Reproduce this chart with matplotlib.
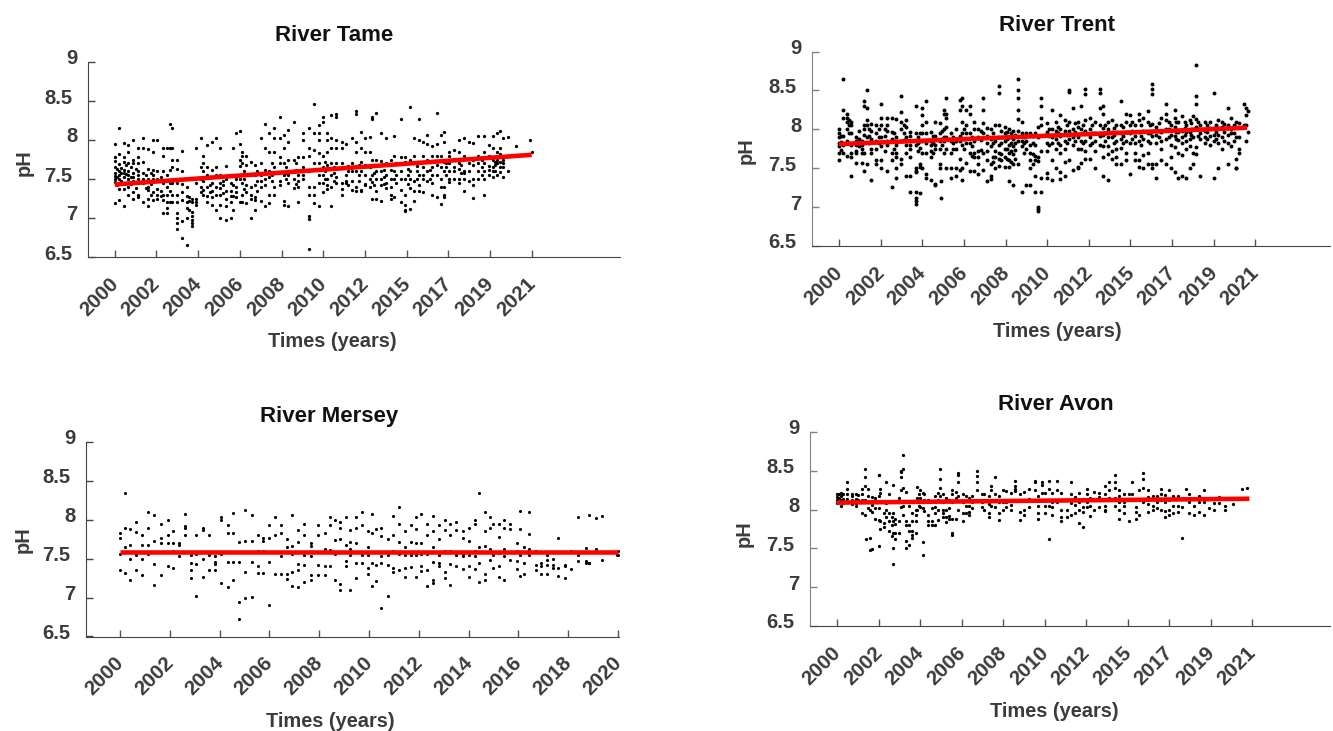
import matplotlib
matplotlib.use("Agg")
import matplotlib.pyplot as plt
from matplotlib.transforms import ScaledTranslation

plt.rcParams['font.family'] = ['Liberation Sans', 'DejaVu Sans']
plt.rcParams['font.weight'] = 'bold'

labels_21 = ['2000', '2002', '2004', '2006', '2008', '2010', '2012', '2015', '2017', '2019', '2021']
labels_20 = ['2000', '2002', '2004', '2006', '2008', '2010', '2012', '2014', '2016', '2018', '2020']
ph_ticks = [6.5, 7, 7.5, 8, 8.5, 9]
ph_labels = ['6.5', '7', '7.5', '8', '8.5', '9']

# each entry: position along the axis (tick units), then the pH readings in that column
tame = [
    (0.0, [7.95, 7.78, 7.73, 7.65, 7.58, 7.54, 7.5, 7.46, 7.19]), (0.1, [8.16, 7.82, 7.69, 7.6, 7.55, 7.5, 7.37, 7.23]),
    (0.23, [7.96, 7.78, 7.72, 7.62, 7.58, 7.53, 7.37, 7.16]), (0.33, [7.93, 7.84, 7.7, 7.6, 7.55, 7.5, 7.4, 7.3]),
    (0.45, [8.0, 7.75, 7.7, 7.58, 7.53, 7.48, 7.33, 7.25]), (0.57, [7.9, 7.78, 7.7, 7.6, 7.55, 7.5, 7.3, 7.27]),
    (0.69, [8.03, 7.9, 7.72, 7.58, 7.5, 7.45, 7.2]), (0.81, [7.88, 7.63, 7.5, 7.4, 7.36, 7.25, 7.16]),
    (0.93, [8.0, 7.84, 7.62, 7.55, 7.5, 7.33, 7.23]), (1.02, [8.0, 7.6, 7.5, 7.37, 7.3, 7.25]),
    (1.15, [7.9, 7.8, 7.6, 7.45, 7.3, 7.23, 7.07]), (1.26, [7.9, 7.55, 7.4, 7.3, 7.2, 7.13, 7.07]),
    (1.33, [8.2, 7.9, 7.62, 7.45, 7.35, 7.2]), (1.38, [8.16, 7.9, 7.75, 7.65, 7.45, 7.3, 7.2]),
    (1.49, [7.75, 7.63, 7.45, 7.3, 7.2, 7.07, 7.0, 6.93, 6.86]), (1.61, [7.86, 7.6, 7.43, 7.33, 7.23, 6.96, 6.75]),
    (1.73, [7.4, 7.28, 7.2, 7.13, 7.0, 6.66]), (1.86, [7.25, 7.2, 7.08, 7.03, 6.98, 6.93, 6.9]),
    (1.95, [7.9, 7.45, 7.25, 7.2, 7.17]), (2.08, [8.02, 7.65, 7.5, 7.4, 7.33]),
    (2.12, [7.8, 7.7, 7.6, 7.47, 7.36, 7.3]), (2.22, [7.93, 7.65, 7.55, 7.4, 7.28, 7.2]),
    (2.33, [7.97, 7.62, 7.45, 7.35, 7.27, 7.17]), (2.44, [8.03, 7.65, 7.55, 7.4, 7.3, 7.1]),
    (2.53, [7.9, 7.55, 7.45, 7.38, 7.3, 7.17, 7.0]), (2.66, [7.67, 7.5, 7.35, 7.25, 7.15, 6.97]),
    (2.78, [7.55, 7.45, 7.35, 7.28, 7.2, 7.0]), (2.84, [7.9, 7.55, 7.42, 7.28, 7.1]),
    (2.92, [8.09, 7.5, 7.4, 7.33, 7.27]), (3.01, [8.12, 7.95, 7.75, 7.67, 7.5, 7.2]),
    (3.05, [7.85, 7.8, 7.7, 7.45, 7.3, 7.2]), (3.15, [7.8, 7.68, 7.55, 7.42, 7.33, 7.19]),
    (3.28, [7.72, 7.55, 7.4, 7.3, 7.25, 7.0]), (3.37, [7.68, 7.55, 7.42, 7.27, 7.23, 7.1]),
    (3.5, [8.03, 7.7, 7.55, 7.48, 7.4, 7.22]), (3.6, [8.2, 7.9, 7.62, 7.5, 7.42, 7.16]),
    (3.7, [8.09, 7.85, 7.6, 7.52, 7.3, 7.19]), (3.83, [8.16, 8.03, 7.85, 7.65, 7.4, 7.3]),
    (3.97, [8.3, 8.03, 7.78, 7.7, 7.47, 7.42]), (4.05, [8.06, 7.9, 7.7, 7.55, 7.22, 7.17]),
    (4.15, [8.13, 7.97, 7.75, 7.55, 7.45, 7.15]), (4.3, [8.23, 7.75, 7.6, 7.5, 7.38]),
    (4.4, [7.78, 7.55, 7.48, 7.4, 7.2]), (4.52, [8.09, 8.0, 7.78, 7.65, 7.55, 7.5]),
    (4.65, [8.16, 7.9, 7.8, 7.6, 7.4, 7.29, 7.02, 6.99, 6.6]), (4.77, [8.46, 8.09, 7.87, 7.7, 7.4, 7.29, 7.19]),
    (4.9, [8.19, 8.09, 8.0, 7.83, 7.7, 7.55, 7.45, 7.16]), (5.0, [8.3, 8.23, 7.8, 7.65, 7.55, 7.45, 7.33]),
    (5.1, [8.09, 8.0, 7.85, 7.68, 7.5, 7.42, 7.37]), (5.18, [8.32, 8.02, 7.9, 7.7, 7.55, 7.4, 7.16]),
    (5.3, [8.33, 8.29, 8.0, 7.9, 7.7, 7.52, 7.45]), (5.45, [7.97, 7.9, 7.7, 7.45, 7.37, 7.29]),
    (5.55, [7.95, 7.65, 7.55, 7.47, 7.45]), (5.7, [8.02, 7.7, 7.6, 7.48, 7.36]),
    (5.78, [8.37, 8.33, 7.98, 7.85, 7.6, 7.4, 7.34]), (5.9, [8.1, 7.9, 7.72, 7.6, 7.36, 7.35]),
    (6.0, [8.03, 7.85, 7.68, 7.55, 7.43, 7.42]), (6.13, [8.04, 7.85, 7.65, 7.5, 7.4]),
    (6.17, [8.3, 8.27, 7.75, 7.55, 7.46, 7.24]), (6.26, [8.35, 7.75, 7.6, 7.5, 7.34, 7.24]),
    (6.38, [8.09, 7.73, 7.6, 7.5, 7.42, 7.22]), (6.5, [8.02, 7.7, 7.55, 7.45, 7.38]),
    (6.63, [7.75, 7.62, 7.5, 7.4, 7.3, 7.24]), (6.7, [8.05, 7.8, 7.6, 7.5, 7.27]),
    (6.86, [8.27, 7.78, 7.6, 7.5, 7.36, 7.2]), (6.95, [7.78, 7.72, 7.5, 7.3, 7.17, 7.1, 7.09]),
    (7.08, [8.42, 7.75, 7.6, 7.5, 7.38, 7.12]), (7.17, [8.02, 7.8, 7.7, 7.48, 7.35, 7.22]),
    (7.3, [8.27, 8.0, 7.72, 7.55, 7.42, 7.35]), (7.4, [7.98, 7.8, 7.65, 7.55, 7.5, 7.33]),
    (7.5, [8.07, 7.95, 7.75, 7.6, 7.47]), (7.6, [7.92, 7.8, 7.65, 7.55, 7.45, 7.3]),
    (7.72, [8.35, 7.95, 7.8, 7.68, 7.55, 7.27]), (7.82, [8.07, 7.8, 7.65, 7.5, 7.4, 7.18]),
    (7.9, [8.1, 7.97, 7.72, 7.6, 7.4, 7.3, 7.27]), (8.02, [7.85, 7.8, 7.7, 7.6, 7.5, 7.46]),
    (8.13, [7.87, 7.75, 7.65, 7.6, 7.5]), (8.25, [8.0, 7.85, 7.7, 7.63, 7.5, 7.45]),
    (8.38, [8.02, 7.8, 7.6, 7.58, 7.5, 7.35]), (8.49, [7.98, 7.77, 7.7, 7.6, 7.48]),
    (8.6, [7.96, 7.75, 7.68, 7.5, 7.42, 7.26]), (8.72, [8.05, 7.8, 7.7, 7.6, 7.5]),
    (8.85, [8.05, 7.85, 7.7, 7.6, 7.5, 7.3]), (8.98, [7.93, 7.8, 7.67, 7.62, 7.55]),
    (9.08, [8.05, 7.9, 7.75, 7.65, 7.6, 7.53]), (9.17, [8.09, 7.85, 7.75, 7.7, 7.55]),
    (9.25, [8.12, 7.9, 7.82, 7.72, 7.65, 7.59]), (9.3, [8.03, 7.75, 7.7, 7.65, 7.53]),
    (9.43, [8.04, 7.6]), (9.63, [7.92]), (9.97, [8.0]), (10.0, [7.85]),
    # second pass through the dense band
    (0.05, [7.63, 7.52, 7.42]), (0.16, [7.64, 7.58, 7.47]), (0.28, [7.68, 7.56, 7.45]), (0.39, [7.66, 7.52, 7.44]),
    (0.5, [7.63, 7.45, 7.38]), (0.75, [7.55, 7.47, 7.38]), (0.88, [7.58, 7.44, 7.3]), (1.1, [7.52, 7.35, 7.28]),
    (1.78, [7.27, 7.22, 7.1]), (2.28, [7.53, 7.42, 7.33]), (2.6, [7.48, 7.42, 7.32]), (3.1, [7.6, 7.5, 7.37]),
    (3.42, [7.6, 7.47, 7.35]), (3.78, [7.7, 7.55, 7.47]), (4.1, [7.65, 7.58, 7.5]), (4.35, [7.7, 7.62, 7.43]),
    (5.05, [7.72, 7.6, 7.5]), (5.25, [7.65, 7.58, 7.48]), (5.6, [7.67, 7.6, 7.42]), (5.85, [7.68, 7.55, 7.47]),
    (6.22, [7.68, 7.58, 7.42]), (6.45, [7.62, 7.52, 7.43]), (6.75, [7.7, 7.55, 7.45]), (7.03, [7.63, 7.55, 7.43]),
    (7.25, [7.67, 7.6, 7.5]), (7.55, [7.72, 7.62, 7.5]), (7.95, [7.7, 7.65, 7.55]), (8.3, [7.75, 7.68, 7.58]),
    (8.8, [7.75, 7.65, 7.55]), (9.12, [7.72, 7.68, 7.6]),
]

trent = [
    (0.0, [8.0, 7.95, 7.9, 7.82, 7.78, 7.69, 7.6]), (0.1, [8.65, 8.25, 8.15, 7.92, 7.8, 7.69]),
    (0.2, [8.2, 8.15, 8.1, 8.0, 7.85, 7.66]), (0.3, [8.1, 8.05, 7.95, 7.8, 7.7, 7.65, 7.4]),
    (0.42, [7.9, 7.85, 7.8, 7.72, 7.7, 7.57]), (0.55, [7.85, 7.8, 7.75, 7.7, 7.57]),
    (0.6, [8.37, 8.3, 8.05, 8.0, 7.93, 7.7, 7.47]), (0.68, [8.5, 8.28, 8.12, 8.05, 7.9, 7.55]),
    (0.78, [8.07, 7.98, 7.88, 7.75, 7.7, 7.35]), (0.9, [8.05, 7.95, 7.85, 7.75, 7.6, 7.55]),
    (1.02, [8.33, 8.15, 8.05, 7.9, 7.78, 7.6, 7.5]), (1.15, [8.15, 8.05, 7.98, 7.85, 7.8, 7.46]),
    (1.28, [8.15, 7.97, 7.88, 7.7, 7.6, 7.26]), (1.38, [8.13, 7.9, 7.8, 7.7, 7.65, 7.5, 7.37]),
    (1.5, [8.43, 8.22, 8.1, 8.0, 7.85, 7.62, 7.55]), (1.6, [8.12, 8.03, 7.9, 7.8, 7.7, 7.4]),
    (1.7, [7.97, 7.92, 7.8, 7.75, 7.65, 7.2, 7.4]), (1.85, [8.3, 7.95, 7.8, 7.5, 7.47, 7.45, 7.2]),
    (1.85, [7.12]), (1.85, [7.04, 7.08]), (1.95, [7.95, 7.85, 7.76, 7.55, 7.52, 7.18]),
    (2.0, [8.28, 8.18, 8.05, 7.95, 7.85, 7.7, 7.5]), (2.1, [8.36, 8.1, 7.95, 7.82, 7.7, 7.42, 7.38]),
    (2.2, [7.97, 7.85, 7.8, 7.72, 7.65, 7.35]), (2.3, [8.1, 7.92, 7.8, 7.75, 7.3, 7.28]),
    (2.42, [8.08, 7.95, 7.85, 7.75, 7.55, 7.5]), (2.45, [7.12, 7.33]), (2.52, [8.25, 8.2, 8.0, 7.9, 7.85, 7.7]),
    (2.58, [8.4, 8.2, 8.15, 8.03, 7.9, 7.75, 7.5]), (2.7, [7.95, 7.85, 7.7, 7.5, 7.37]),
    (2.8, [8.0, 7.85, 7.75, 7.5, 7.4]), (2.9, [8.38, 8.25, 7.92, 7.85, 7.62, 7.48]),
    (2.96, [8.4, 8.3, 8.1, 7.95, 7.8, 7.35, 7.5]), (3.04, [8.25, 8.05, 7.95, 7.82, 7.57]),
    (3.15, [8.3, 8.2, 7.95, 7.82, 7.7, 7.46]), (3.25, [8.1, 8.0, 7.85, 7.7, 7.65, 7.47]),
    (3.35, [8.0, 7.9, 7.72, 7.65, 7.55, 7.43]), (3.45, [8.4, 8.25, 8.08, 7.95, 7.7, 7.48]),
    (3.55, [8.02, 7.92, 7.83, 7.72, 7.6, 7.33]), (3.65, [8.0, 7.88, 7.78, 7.55, 7.4, 7.36]),
    (3.75, [8.06, 7.85, 7.72, 7.65, 7.5]), (3.85, [8.06, 7.8, 7.7, 7.62, 7.53]),
    (3.85, [8.56, 8.47]), (3.98, [8.03, 7.95, 7.85, 7.75, 7.65, 7.52]), (4.08, [8.0, 7.9, 7.8, 7.7, 7.6, 7.33, 7.52]),
    (4.18, [7.98, 7.88, 7.78, 7.68, 7.55, 7.28]), (4.3, [8.65, 8.5, 8.4, 8.25, 8.13, 7.98, 7.85, 7.55]),
    (4.4, [8.09, 7.95, 7.85, 7.78, 7.2]), (4.5, [7.95, 7.85, 7.75, 7.28]), (4.6, [7.95, 7.8, 7.7, 7.6, 7.5, 7.28]),
    (4.72, [7.95, 7.8, 7.66, 7.6, 7.4, 7.2]), (4.78, [8.03, 7.9, 7.64, 7.59, 7.0, 6.97, 6.95]),
    (4.86, [8.4, 8.3, 8.14, 8.05, 7.72, 7.38, 7.2]), (5.0, [8.08, 7.97, 7.82, 7.72, 7.44, 7.38]),
    (5.12, [8.25, 8.0, 7.9, 7.82, 7.6, 7.35]), (5.22, [8.1, 7.98, 7.88, 7.75, 7.5]),
    (5.32, [8.18, 8.0, 7.92, 7.8, 7.7, 7.36, 7.45]), (5.43, [8.12, 7.98, 7.85, 7.75, 7.58, 7.4]),
    (5.52, [8.48, 8.5, 8.1, 7.98, 7.88, 7.6]), (5.62, [8.28, 8.0, 7.9, 7.8, 7.48]),
    (5.73, [8.1, 8.03, 7.9, 7.75, 7.5, 7.52]), (5.82, [8.3, 8.0, 7.85, 7.75, 7.57]),
    (5.92, [8.52, 8.45, 8.12, 7.98, 7.85, 7.72, 7.62]), (6.02, [8.15, 8.0, 7.9, 7.8, 7.62]),
    (6.14, [8.1, 7.95, 7.85, 7.72, 7.5]), (6.26, [8.52, 8.47, 8.28, 8.05, 7.92, 7.8]),
    (6.34, [8.3, 8.2, 8.02, 7.93, 7.78, 7.65, 7.4]), (6.46, [8.1, 8.0, 7.9, 7.78, 7.68, 7.35]),
    (6.55, [8.12, 7.97, 7.9, 7.72, 7.62]), (6.65, [8.05, 7.96, 7.85, 7.75, 7.65, 7.55]),
    (6.77, [8.37, 8.05, 7.95, 7.88, 7.76, 7.55]), (6.9, [8.2, 8.1, 7.97, 7.85, 7.7, 7.6]),
    (7.0, [8.18, 8.05, 7.95, 7.82, 7.42]), (7.1, [8.05, 7.92, 7.83, 7.7, 7.6]),
    (7.2, [8.2, 8.12, 7.97, 7.85, 7.6, 7.52]), (7.3, [8.15, 7.98, 7.87, 7.67, 7.5]),
    (7.42, [8.23, 8.1, 7.95, 7.85, 7.7, 7.55]), (7.52, [8.58, 8.52, 8.45, 8.07, 7.92, 7.55, 7.5]),
    (7.62, [8.03, 7.93, 7.82, 7.55, 7.38]), (7.74, [8.14, 7.97, 7.85, 7.75, 7.6]),
    (7.85, [8.33, 8.2, 8.12, 8.0, 7.88, 7.55]), (7.98, [8.05, 7.93, 7.8, 7.65, 7.5]),
    (8.06, [8.25, 8.15, 8.03, 7.92, 7.77, 7.45]), (8.15, [8.1, 7.97, 7.86, 7.7, 7.38]),
    (8.25, [8.17, 7.98, 7.9, 7.82, 7.67, 7.4]), (8.34, [8.05, 7.97, 7.85, 7.75, 7.38]),
    (8.42, [8.12, 7.97, 7.88, 7.78, 7.5]), (8.5, [8.17, 8.0, 7.9, 7.7, 7.55]),
    (8.57, [8.83, 8.43, 8.33, 8.13, 8.03, 7.77, 7.68]), (8.68, [8.05, 7.95, 7.88, 7.4]),
    (8.8, [8.1, 7.98, 7.9, 7.83]), (8.9, [8.1, 8.02, 7.92, 7.8]), (9.0, [8.47, 8.02, 7.93, 7.85, 7.38]),
    (9.1, [8.12, 8.02, 7.93, 7.82, 7.5]), (9.2, [8.1, 8.03, 7.9, 7.75]),
    (9.35, [8.28, 8.05, 7.93, 7.82, 7.55]), (9.42, [8.15, 8.0, 7.95, 7.78]),
    (9.54, [8.1, 8.03, 7.9, 7.62, 7.5, 7.5]), (9.62, [8.08, 7.9, 7.75, 7.7]),
    (9.72, [8.33, 8.05]), (9.78, [8.28, 8.18, 8.05, 7.85]), (9.82, [8.23, 7.97]),
    # second pass through the dense band
    (0.05, [7.92, 7.84, 7.74]), (0.25, [8.12, 8.06, 7.95]), (0.48, [7.98, 7.88, 7.78]), (0.72, [8.0, 7.92, 7.82]),
    (0.95, [8.0, 7.9, 7.82]), (1.1, [8.0, 7.92, 7.72]), (1.33, [7.95, 7.85, 7.75]), (1.55, [8.06, 7.95, 7.86]),
    (1.9, [7.9, 7.82, 7.72]), (2.25, [7.92, 7.82, 7.7]), (2.48, [7.98, 7.88, 7.8]), (2.75, [7.9, 7.82, 7.75]),
    (3.0, [8.0, 7.88, 7.75]), (3.2, [7.9, 7.78, 7.66]), (3.4, [7.98, 7.86, 7.74]), (3.7, [7.95, 7.83, 7.65, 7.58]),
    (3.9, [7.98, 7.83, 7.68, 7.6]), (4.03, [7.97, 7.87, 7.75, 7.62]), (4.13, [7.95, 7.83, 7.72, 7.58]),
    (4.22, [7.93, 7.82, 7.74, 7.62]), (4.45, [7.9, 7.82, 7.7]), (4.65, [7.92, 7.83, 7.68, 7.55]),
    (5.05, [8.0, 7.92, 7.8]), (5.27, [8.03, 7.95, 7.82]), (5.48, [8.05, 7.93, 7.82]), (5.68, [8.08, 7.97, 7.85]),
    (5.87, [8.05, 7.95, 7.83]), (6.08, [8.06, 7.95, 7.82]), (6.4, [8.05, 7.95, 7.85]), (6.6, [8.02, 7.93, 7.82]),
    (6.83, [8.03, 7.92, 7.82]), (7.05, [8.1, 7.98, 7.88]), (7.25, [8.05, 7.92, 7.8]), (7.47, [8.05, 7.95, 7.82]),
    (7.68, [8.08, 7.98, 7.9]), (7.92, [8.1, 8.0, 7.9]), (8.1, [8.1, 7.97, 7.88]), (8.3, [8.1, 8.02, 7.93]),
    (8.46, [8.08, 8.0, 7.93]), (8.63, [8.1, 8.0, 7.92]), (8.85, [8.05, 7.97, 7.87]), (9.05, [8.05, 7.97, 7.88]),
    (9.25, [8.07, 7.97, 7.85]), (9.48, [8.05, 7.95, 7.85]),
]

mersey = [
    (0.0, [7.83, 7.76, 7.56, 7.36]), (0.1, [8.34, 7.89, 7.65, 7.31]), (0.2, [7.88, 7.67, 7.49, 7.22]),
    (0.33, [7.97, 7.84, 7.55, 7.35]), (0.45, [7.81, 7.67, 7.5, 7.29]), (0.56, [8.1, 7.9, 7.67, 7.56]),
    (0.68, [8.06, 7.73, 7.43, 7.16]), (0.82, [7.95, 7.77, 7.7, 7.29]), (0.97, [8.0, 7.8, 7.7, 7.41]),
    (1.07, [7.86, 7.7, 7.6, 7.38]), (1.19, [7.7, 7.67, 7.53]), (1.3, [8.07, 7.92, 7.9, 7.8]),
    (1.43, [7.55, 7.45, 7.35, 7.25]), (1.53, [7.8, 7.56, 7.43, 7.02]), (1.67, [7.9, 7.87, 7.5, 7.26]),
    (1.79, [7.8, 7.55, 7.36]), (1.91, [7.53, 7.46, 7.43, 7.36]), (2.02, [8.03, 8.0, 7.56, 7.19]),
    (2.16, [7.93, 7.83, 7.46, 7.13]), (2.27, [8.09, 7.83, 7.46, 7.23]), (2.39, [7.72, 7.46, 6.94, 6.72]),
    (2.52, [8.13, 7.73, 7.33, 7.0]), (2.65, [8.06, 7.73, 7.46, 7.01]), (2.77, [7.8, 7.6, 7.4, 7.32]),
    (2.87, [7.76, 7.73, 7.6, 7.32]), (3.0, [7.93, 7.76, 7.46, 6.91]), (3.12, [8.03, 7.8, 7.3]),
    (3.24, [7.93, 7.83, 7.53, 7.3]), (3.36, [7.75, 7.65, 7.3, 7.24]), (3.45, [8.06, 7.66, 7.56, 7.33, 7.15]),
    (3.58, [7.87, 7.72, 7.43, 7.36, 7.14]), (3.7, [7.95, 7.8, 7.55, 7.42, 7.2]), (3.84, [7.7, 7.66, 7.53, 7.29, 7.23]),
    (3.97, [7.93, 7.8, 7.42, 7.29]), (4.12, [7.83, 7.62, 7.4, 7.29]), (4.22, [8.03, 7.93, 7.61, 7.4]),
    (4.32, [8.0, 7.74, 7.56, 7.23]), (4.41, [7.97, 7.89, 7.75, 7.17, 7.1]), (4.53, [8.03, 7.68, 7.47, 7.4]),
    (4.62, [7.87, 7.72, 7.62, 7.55, 7.1]), (4.74, [8.03, 7.9, 7.7, 7.45, 7.25]), (4.85, [8.1, 7.93, 7.55, 7.45]),
    (4.97, [7.85, 7.65, 7.55, 7.38, 7.3]), (5.07, [8.07, 7.83, 7.45, 7.15]), (5.14, [7.88, 7.42, 7.21]),
    (5.25, [7.9, 7.79, 7.53, 7.45, 6.86]), (5.38, [7.75, 7.55, 7.42, 7.02]), (5.48, [8.05, 7.8, 7.6, 7.38, 7.33]),
    (5.6, [8.16, 7.95, 7.72, 7.56, 7.35]), (5.73, [7.86, 7.65, 7.55, 7.38, 7.27]), (5.84, [7.93, 7.72, 7.55, 7.39]),
    (5.95, [8.03, 7.88, 7.7, 7.55, 7.27]), (6.05, [8.08, 7.7, 7.56, 7.41, 7.34]), (6.16, [7.95, 7.8, 7.56, 7.35, 7.15]),
    (6.28, [8.05, 7.86, 7.65, 7.46, 7.22, 7.19]), (6.41, [7.93, 7.75, 7.55, 7.45, 7.4]), (6.52, [8.0, 7.87, 7.6, 7.33, 7.25]),
    (6.63, [7.95, 7.8, 7.6, 7.43, 7.16]), (6.75, [7.97, 7.87, 7.55, 7.4]), (6.88, [7.85, 7.77, 7.56, 7.53, 7.37]),
    (7.0, [7.9, 7.73, 7.55, 7.4, 7.27]), (7.12, [8.0, 7.95, 7.6, 7.53, 7.37]), (7.21, [8.34, 7.65, 7.45, 7.2]),
    (7.33, [8.1, 7.85, 7.66, 7.3, 7.22]), (7.42, [8.03, 7.9, 7.63, 7.48]), (7.5, [7.95, 7.55, 7.38]),
    (7.61, [7.95, 7.78, 7.57, 7.4, 7.26]), (7.72, [8.0, 7.9, 7.63, 7.53, 7.22]), (7.83, [7.95, 7.88, 7.58, 7.48]),
    (7.98, [7.7, 7.6, 7.47, 7.37]), (8.04, [8.11, 7.88, 7.55, 7.28]), (8.12, [7.65, 7.45, 7.3]),
    (8.22, [8.1, 7.82, 7.63, 7.55]), (8.35, [7.6, 7.42, 7.36]), (8.46, [7.45, 7.3, 7.41]),
    (8.58, [7.42, 7.48, 7.55, 7.3]), (8.7, [7.42, 7.38, 7.5]), (8.8, [7.76, 7.38, 7.28]),
    (8.93, [7.4, 7.42, 7.25]), (9.05, [7.6, 7.37]), (9.2, [8.04, 7.55, 7.47]),
    (9.35, [7.64, 7.45, 7.47]), (9.42, [8.06, 7.58, 7.44, 7.45]), (9.55, [7.63, 8.02]),
    (9.67, [8.05, 7.58, 7.48]), (9.97, [7.55]), (10.0, [7.6, 7.55]),
]

avon = [
    (0.0, [8.2, 8.16, 8.12, 8.08]), (0.05, [8.2, 8.15, 8.1]), (0.1, [8.21, 8.17, 8.13, 8.05]),
    (0.15, [8.2, 8.14, 8.08]), (0.23, [8.35, 8.26, 8.2, 8.14, 8.1]), (0.35, [8.2, 8.17, 8.12, 8.07]),
    (0.45, [8.2, 8.14, 8.08, 8.04]), (0.5, [8.19, 8.12]), (0.6, [8.26, 8.2, 8.12]),
    (0.6, [7.95]), (0.68, [8.42, 8.52, 8.3, 8.12, 7.93]), (0.7, [7.62]), (0.74, [8.26, 8.18, 8.02]),
    (0.8, [7.63, 7.48, 8.0]), (0.85, [8.16, 8.06, 7.97, 7.49]), (0.92, [8.15, 8.02, 7.88]),
    (1.0, [8.45, 8.44, 8.17, 8.02, 7.87, 7.53]), (1.04, [8.27, 8.22, 7.85, 7.75]), (1.12, [8.1, 7.95, 7.83, 7.78]),
    (1.18, [8.35, 8.08, 8.0, 7.9]), (1.25, [8.2, 7.96, 7.85, 7.72]), (1.32, [7.9, 7.8, 7.66]),
    (1.35, [8.32, 7.95, 7.85, 7.7, 7.3, 7.5]), (1.4, [7.88, 7.82, 7.62, 7.7]), (1.5, [8.15, 7.85, 7.7]),
    (1.55, [8.5, 8.48, 8.42, 8.25, 8.03]), (1.58, [8.7, 8.52, 8.28, 8.05, 7.93]), (1.65, [8.23, 7.85, 7.8, 7.6, 7.5]),
    (1.74, [8.05, 7.8, 7.72, 7.55]), (1.8, [7.95, 7.85, 7.73, 7.67, 7.63]), (1.9, [7.93, 7.85, 7.7, 8.0]),
    (1.92, [8.29, 8.15, 8.0]), (1.98, [8.2, 8.1, 8.05]), (2.0, [8.25, 8.15, 8.03]),
    (2.06, [8.22, 8.1, 8.02, 7.58, 7.42]), (2.1, [8.2, 8.12, 7.98]), (2.2, [8.12, 7.93, 7.85, 7.8]),
    (2.28, [8.02, 7.85, 7.8]), (2.35, [8.18, 8.03, 7.95, 7.8]), (2.42, [8.22, 8.12, 8.0, 7.87]),
    (2.48, [8.52, 8.4, 8.28, 8.18]), (2.55, [8.2, 8.1, 8.0, 7.95, 7.9]), (2.62, [8.15, 8.0, 7.9, 7.84]),
    (2.7, [8.13, 8.02, 7.92, 7.88]), (2.78, [8.25, 8.2, 8.1, 7.88, 7.67, 7.7]), (2.86, [8.23, 8.15, 7.88]),
    (2.92, [8.47, 8.44, 8.35, 8.17, 8.0]), (3.03, [8.2, 8.1, 7.95, 7.85]), (3.1, [8.18, 8.05, 7.96]),
    (3.18, [8.15, 8.05, 7.97, 7.93]), (3.25, [8.18, 8.1, 8.02]), (3.37, [8.5, 8.43, 8.36, 8.25]),
    (3.5, [8.2, 8.1, 8.03]), (3.55, [8.2, 8.12, 8.0]), (3.65, [8.17, 8.07, 7.95, 7.9]),
    (3.72, [8.3, 8.25, 8.05]), (3.8, [8.42, 8.2, 8.03]), (3.9, [8.18, 8.1, 7.95, 7.87]),
    (4.0, [8.25, 8.1, 8.0]), (4.08, [8.24, 8.1, 8.03]), (4.18, [8.22, 8.06, 7.99]),
    (4.28, [8.37, 8.3, 8.27, 8.24]), (4.4, [8.2, 8.12, 7.97, 7.87]), (4.5, [8.23, 8.12, 8.0, 7.93]),
    (4.62, [8.27, 8.14, 8.03]), (4.77, [8.37, 8.35, 8.25, 8.12]), (4.85, [8.17, 8.05, 7.95, 7.88]),
    (4.93, [8.35, 8.32, 8.22, 8.12]), (5.0, [8.22, 8.05, 7.95]), (5.1, [8.37, 8.27, 8.05, 7.62]),
    (5.18, [8.22, 8.1, 8.03, 7.93]), (5.3, [8.37, 8.25, 8.1]), (5.4, [8.22, 8.0, 7.9, 7.85]),
    (5.55, [8.13, 8.0, 7.9]), (5.64, [8.35, 8.2, 8.08, 7.93]), (5.73, [8.16, 8.06, 7.95]),
    (5.82, [8.22, 8.1, 8.0, 7.83]), (5.92, [8.14, 8.03, 7.97, 7.78]), (6.02, [8.27, 8.2, 8.1, 8.03]),
    (6.1, [8.15, 8.05, 7.92]), (6.2, [8.23, 8.14, 8.0]), (6.3, [8.22, 8.16, 8.03]),
    (6.45, [8.3, 8.2, 8.05, 7.99, 7.98]), (6.55, [8.36, 8.25, 8.15]), (6.7, [8.45, 8.35, 8.28, 8.15, 8.05]),
    (6.8, [8.25, 8.18, 8.1, 8.0, 7.88]), (6.9, [8.2, 8.1, 8.05, 7.95]), (7.03, [8.2, 8.14, 7.85]),
    (7.1, [8.36, 8.2, 8.13]), (7.2, [8.13, 8.03, 7.97, 7.88]), (7.28, [8.25, 8.12, 7.93]),
    (7.36, [8.47, 8.4, 8.28, 8.1]), (7.5, [8.25, 8.16, 8.07, 7.97]), (7.6, [8.18, 8.05, 8.0]),
    (7.7, [8.17, 8.1, 8.02]), (7.8, [8.27, 8.2, 8.13, 8.0]), (7.9, [8.19, 8.1, 7.98, 7.9]),
    (8.0, [8.25, 8.13, 8.0, 7.93]), (8.1, [8.17, 8.05, 7.96]), (8.2, [8.18, 8.05, 7.97]),
    (8.3, [8.14, 8.03, 7.63]), (8.4, [8.26, 8.14]), (8.48, [8.2, 8.1, 7.95]), (8.6, [8.15, 8.05, 7.93]),
    (8.72, [8.18, 8.1, 7.97]), (8.83, [8.25, 8.1, 7.93]), (8.95, [8.14, 8.02]), (9.08, [8.15, 8.09, 8.0]),
    (9.2, [8.16, 8.08]), (9.35, [8.14, 8.05, 8.0]), (9.54, [8.07]), (9.74, [8.26]), (9.87, [8.28]),
]

# red fit lines: start and end of each trend
tame_fit = ([0, 10], [7.43, 7.81])
trent_fit = ([0, 9.8], [7.81, 8.02])
mersey_fit = ([0, 10], [7.58, 7.58])
avon_fit = ([0, 9.93], [8.09, 8.14])

W = 1333
H = 731
fig = plt.figure(figsize=(W / 100, H / 100), dpi=100)
text_col = '#3b3b3b'


def panel(left, right, top, bottom, x0, xstep, columns, fit, xlabels, title, tx, ty, lx, ly, px, py, spine_col, dot):
    ax = fig.add_axes([left / W, 1 - bottom / H, (right - left) / W, (bottom - top) / H])
    xs = []
    ys = []
    for pos, vals in columns:
        for v in vals:
            xs.append(pos)
            ys.append(v)
    ax.scatter(xs, ys, s=dot, c='black', linewidths=0, zorder=2)
    ax.plot(fit[0], fit[1], color='#ff0000', lw=3.3, solid_capstyle='butt', zorder=3)
    ax.set_xlim((left - x0) / xstep, (right - x0) / xstep)
    ax.set_ylim(6.5, 9)
    ax.set_xticks(range(11))
    ax.set_xticklabels(xlabels, rotation=45, ha='right', rotation_mode='anchor', fontsize=14.8, color=text_col)
    ax.set_yticks(ph_ticks)
    ax.set_yticklabels(ph_labels, fontsize=14.5, color=text_col)
    ax.tick_params(axis='x', direction='in', length=5, width=1, color='#555555', pad=12)
    ax.tick_params(axis='y', direction='in', length=5, width=1, color=spine_col, pad=11)
    # the y labels sit a little above their ticks, whole numbers further right
    for t, s in zip(ax.get_yticklabels(), ph_labels):
        dx = 5 if '.' not in s else 0
        t.set_transform(t.get_transform() + ScaledTranslation(dx / 100, 5 / 100, fig.dpi_scale_trans))
    for t in ax.get_xticklabels():
        t.set_transform(t.get_transform() + ScaledTranslation(-6 / 100, 0, fig.dpi_scale_trans))
    ax.spines['top'].set_visible(False)
    ax.spines['right'].set_visible(False)
    ax.spines['left'].set_color(spine_col)
    ax.spines['bottom'].set_color('#444444')
    fig.text(tx / W, 1 - (ty + 1.5) / H, title, ha='center', va='center', fontsize=16, color='#111111')
    fig.text(lx / W, 1 - (ly + 1.5) / H, 'Times (years)', ha='center', va='center', fontsize=14.4, color=text_col)
    fig.text(px / W, 1 - py / H, 'pH', ha='center', va='center', rotation=90, fontsize=14.4, color=text_col)


panel(87.5, 620, 62, 257, 114.7, 41.7, tame, tame_fit, labels_21, 'River Tame', 334, 34, 332, 340, 24, 163, '#444444', 5.5)
panel(811.5, 1330, 51.5, 246, 839, 41.63, trent, trent_fit, labels_21, 'River Trent', 1057, 24, 1057, 330, 746, 151, '#808080', 8)
panel(85.5, 618.5, 442, 636.5, 120, 49.8, mersey, mersey_fit, labels_20, 'River Mersey', 329, 415, 330, 720, 23, 540, '#444444', 5)
panel(810, 1330, 432, 626, 837, 41.53, avon, avon_fit, labels_21, 'River Avon', 1056, 403, 1054, 710, 744, 534, '#808080', 5.5)

fig.savefig('out.png', dpi=100)
